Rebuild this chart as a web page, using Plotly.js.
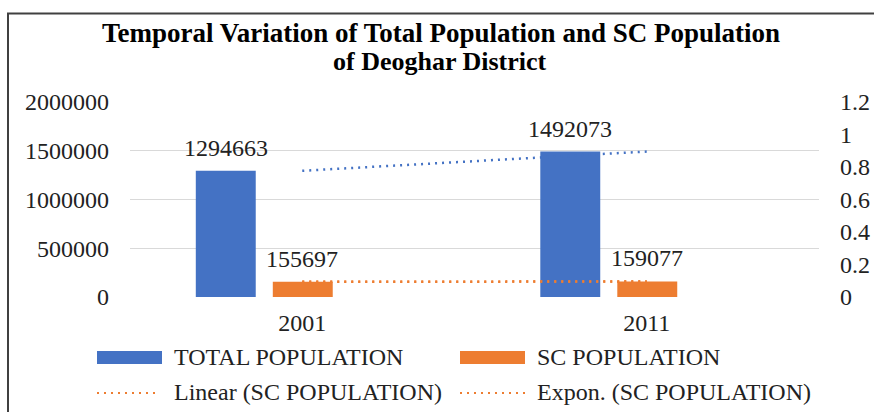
<!DOCTYPE html>
<html>
<head>
<meta charset="utf-8">
<script src="https://cdn.plot.ly/plotly-3.0.1.min.js"></script>
<style>html,body{margin:0;padding:0;background:#fff;}#chart{width:874px;height:412px;}</style>
</head>
<body>
<div id="chart"></div>
<script>
// ---- data ----
const years = ["2001", "2011"];
const totalPopulation = [1294663, 1492073];
const scPopulation = [155697, 159077];
const totalTrend = [1294663, 1492073];
const scLinearTrend = [155697, 159077];
const scExponTrend = [155697, 159077];
const secondaryAxisValues = [null, null];
const leftTicks = [0, 500000, 1000000, 1500000, 2000000];
const rightTicks = [0, 0.2, 0.4, 0.6, 0.8, 1, 1.2];
const titleLine1 = "Temporal Variation of Total Population and SC Population";
const titleLine2 = "of Deoghar District";
const legendLabels = ["TOTAL POPULATION", "SC POPULATION", "Linear (SC POPULATION)", "Expon. (SC POPULATION)"];

// ---- styling helpers ----
const BLUE = "#4472C4", ORANGE = "#ED7D31";
const FONT = "Liberation Serif, Times New Roman, serif";
const TXT = "#222222";
const L = 130, R = 819, T = 102, B = 297;
const X = p => (p - L) / (R - L);
const Y = p => (B - p) / (B - T);

const traces = [
  {type: "bar", x: years, y: totalPopulation, name: legendLabels[0], marker: {color: BLUE},
   width: 0.174, offset: -0.309, showlegend: false, hoverinfo: "x+y"},
  {type: "bar", x: years, y: scPopulation, name: legendLabels[1], marker: {color: ORANGE},
   width: 0.174, offset: -0.0855, showlegend: false, hoverinfo: "x+y"},
  {type: "scatter", mode: "lines", x: years, y: totalTrend, name: "Linear (TOTAL POPULATION)",
   line: {color: BLUE, width: 2.5, dash: "2px,5px"}, showlegend: false},
  {type: "scatter", mode: "lines", x: years, y: scLinearTrend, name: legendLabels[2],
   line: {color: ORANGE, width: 2.5, dash: "2px,5px"}, showlegend: false},
  {type: "scatter", mode: "lines", x: years, y: scExponTrend, name: legendLabels[3],
   line: {color: ORANGE, width: 2.5, dash: "2px,5px"}, showlegend: false},
  {type: "scatter", mode: "lines", x: years, y: secondaryAxisValues, yaxis: "y2", name: "secondary",
   showlegend: false, hoverinfo: "skip"}
];

const annotations = [];
// title line 2
annotations.push({text: "<b>" + titleLine2 + "</b>", xref: "paper", yref: "paper", x: X(440), y: Y(61),
  xanchor: "center", yanchor: "middle", showarrow: false, font: {family: FONT, size: 26, color: "#000"}});
// data labels
const labelFont = {family: FONT, size: 24, color: TXT};
years.forEach((yr, i) => {
  annotations.push({text: String(totalPopulation[i]), x: i, y: totalPopulation[i], xref: "x", yref: "y",
    xshift: -76.5, yshift: 8, xanchor: "center", yanchor: "bottom", showarrow: false, font: labelFont});
  annotations.push({text: String(scPopulation[i]), x: i, y: scPopulation[i], xref: "x", yref: "y",
    xshift: 0, yshift: 8, xanchor: "center", yanchor: "bottom", showarrow: false, font: labelFont});
});
// legend texts
const legendPos = [[172, 357], [535, 357], [172, 392], [535, 392]];
legendLabels.forEach((lab, i) => {
  annotations.push({text: lab, xref: "paper", yref: "paper", x: X(legendPos[i][0]), y: Y(legendPos[i][1]),
    xanchor: "left", yanchor: "middle", showarrow: false, font: labelFont});
});

const shapes = [
  {type: "rect", xref: "paper", yref: "paper", x0: X(8), x1: X(900), y0: Y(13.5), y1: Y(440),
   line: {color: "#404040", width: 2}, fillcolor: "rgba(0,0,0,0)"},
  {type: "rect", xref: "paper", yref: "paper", x0: X(97), x1: X(162), y0: Y(351), y1: Y(364),
   line: {width: 0}, fillcolor: BLUE},
  {type: "rect", xref: "paper", yref: "paper", x0: X(460), x1: X(525), y0: Y(351), y1: Y(364),
   line: {width: 0}, fillcolor: ORANGE},
  {type: "line", xref: "paper", yref: "paper", x0: X(97), x1: X(160), y0: Y(393), y1: Y(393),
   line: {color: ORANGE, width: 2, dash: "2px,5px"}},
  {type: "line", xref: "paper", yref: "paper", x0: X(460), x1: X(525), y0: Y(393), y1: Y(393),
   line: {color: ORANGE, width: 2, dash: "2px,5px"}}
];

const layout = {
  width: 874, height: 412,
  margin: {l: L, r: 874 - R, t: T, b: 412 - B, pad: 0},
  paper_bgcolor: "#fff", plot_bgcolor: "#fff",
  showlegend: false,
  barmode: "overlay",
  title: {text: "<b>" + titleLine1 + "</b>", xref: "container", yref: "container",
    x: 441 / 874, xanchor: "center", y: 1 - 33 / 412, yanchor: "middle",
    font: {family: FONT, size: 27, color: "#000"}},
  xaxis: {type: "category", range: [-0.5, 1.5], showgrid: false, zeroline: false, showline: false,
    ticks: "", ticklabelstandoff: 9, tickfont: {family: FONT, size: 24, color: TXT}, fixedrange: true},
  yaxis: {range: [0, 2000000], tickvals: leftTicks, ticktext: leftTicks.map(String),
    showgrid: true, gridcolor: "#d9d9d9", gridwidth: 1, zeroline: false, showline: false,
    ticks: "", ticklabelstandoff: 20, tickfont: {family: FONT, size: 24, color: TXT}},
  yaxis2: {range: [0, 1.2], overlaying: "y", anchor: "x", side: "right", tickvals: rightTicks, ticktext: rightTicks.map(String),
    showgrid: false, zeroline: false, showline: false, ticks: "", ticklabelstandoff: 20,
    tickfont: {family: FONT, size: 24, color: TXT}},
  annotations: annotations,
  shapes: shapes
};

Plotly.newPlot("chart", traces, layout, {displayModeBar: false, staticPlot: true});
</script>
</body>
</html>
